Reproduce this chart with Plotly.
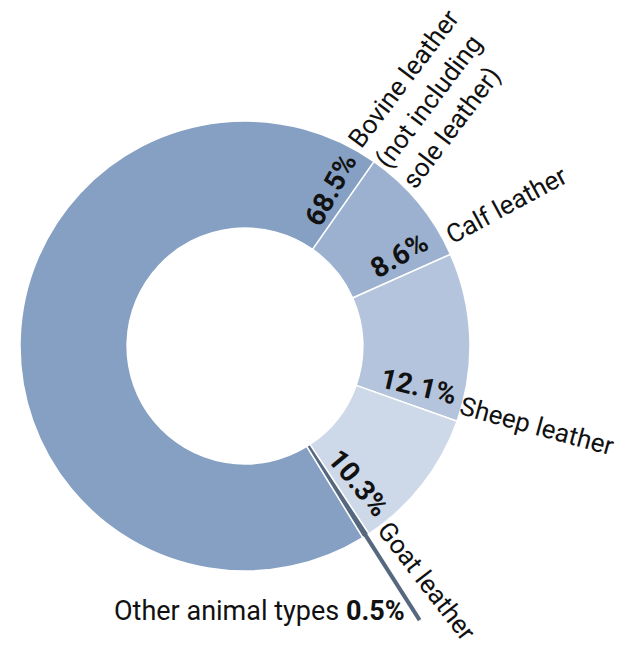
import math
import plotly.graph_objects as go

# ---- data ----
categories = ["Bovine leather<br>(not including<br>sole leather)", "Calf leather",
              "Sheep leather", "Goat leather", "Other animal types"]
shares = [68.5, 8.6, 12.1, 10.3, 0.5]
colors = ["#86a0c3", "#9cb1cf", "#b3c4dc", "#cdd8e8", "#56687f"]

# ---- layout constants ----
W, H = 640, 647
DOM_X = [20 / W, 470 / W]
DOM_Y = [76 / H, 526 / H]
HOLE = 0.524
FIRST_END = 35.0          # angle (deg, clockwise from 12 o'clock) where first slice ends
FONT = "Roboto, 'Liberation Sans', sans-serif"
FS_LABEL = 26
FS_PCT = 28
FS_OTHER = 27
CHAR_W = 11.75
GAP = 1.5

total = sum(shares)
rotation = FIRST_END - 360 * shares[0] / total

cx = (DOM_X[0] + DOM_X[1]) / 2 * W
cy = (1 - (DOM_Y[0] + DOM_Y[1]) / 2) * H
R_OUT = min((DOM_X[1] - DOM_X[0]) * W, (DOM_Y[1] - DOM_Y[0]) * H) / 2
R_IN = R_OUT * HOLE


def to_paper(r, theta):
    t = math.radians(theta)
    x = cx + r * math.sin(t)
    y = cy - r * math.cos(t)
    return x / W, 1 - y / H, x, y


# slice angles
starts, ends = [], []
a = rotation
for v in shares:
    starts.append(a)
    a += 360 * v / total
    ends.append(a)
ends = [e % 360 for e in ends]

fig = go.Figure()
fig.add_trace(go.Pie(
    labels=categories, values=shares, sort=False, direction="clockwise",
    rotation=rotation, hole=HOLE, domain=dict(x=DOM_X, y=DOM_Y),
    marker=dict(colors=colors, line=dict(color="white", width=1.5)),
    textinfo="none", hoverinfo="label+value", showlegend=False,
))

annotations = []
# percentage labels (inside ring, radial)
for i in range(4):
    th = ends[i] - 6.3
    px, py, _, _ = to_paper((R_IN + R_OUT) / 2 + 7, th)
    annotations.append(dict(
        x=px, y=py, xref="paper", yref="paper", showarrow=False,
        text=f"<b>{shares[i]:.1f}%</b>", textangle=th - 90,
        xanchor="center", yanchor="middle", borderpad=0,
        font=dict(family=FONT, size=FS_PCT, color="#111111"),
    ))

# category labels (outside ring, radial)
for i in range(4):
    lines = categories[i].split("<br>")
    maxlen = max(len(s) for s in lines)
    th = ends[i] - 4.3 + (len(lines) - 1) / 2 * math.degrees(33 / 300)
    r = R_OUT + GAP + 0.5 * maxlen * CHAR_W
    px, py, _, _ = to_paper(r, th)
    annotations.append(dict(
        x=px, y=py, xref="paper", yref="paper", showarrow=False,
        text=categories[i], textangle=th - 90, align="left",
        xanchor="center", yanchor="middle", borderpad=0,
        font=dict(family=FONT, size=FS_LABEL, color="#111111"),
    ))

# "Other" slice: extended leader
mid_o = (starts[4] + 360 * shares[4] / total / 2) % 360
x0, y0, _, _ = to_paper(R_OUT - 4, mid_o)
x1, y1, ex, ey = to_paper(325, mid_o)
fig.add_shape(type="line", xref="paper", yref="paper", x0=x0, y0=y0, x1=x1, y1=y1,
              line=dict(color=colors[4], width=4))
annotations.append(dict(
    x=(ex - 13) / W, y=1 - (ey - 9) / H, xref="paper", yref="paper", showarrow=False,
    text=f"{categories[4]} <b>{shares[4]:.1f}%</b>", xanchor="right", yanchor="middle",
    font=dict(family=FONT, size=FS_OTHER, color="#111111"),
))

fig.update_layout(
    width=W, height=H, margin=dict(l=0, r=0, t=0, b=0),
    paper_bgcolor="white", plot_bgcolor="white",
    annotations=annotations,
)
fig.write_html("out.html")
